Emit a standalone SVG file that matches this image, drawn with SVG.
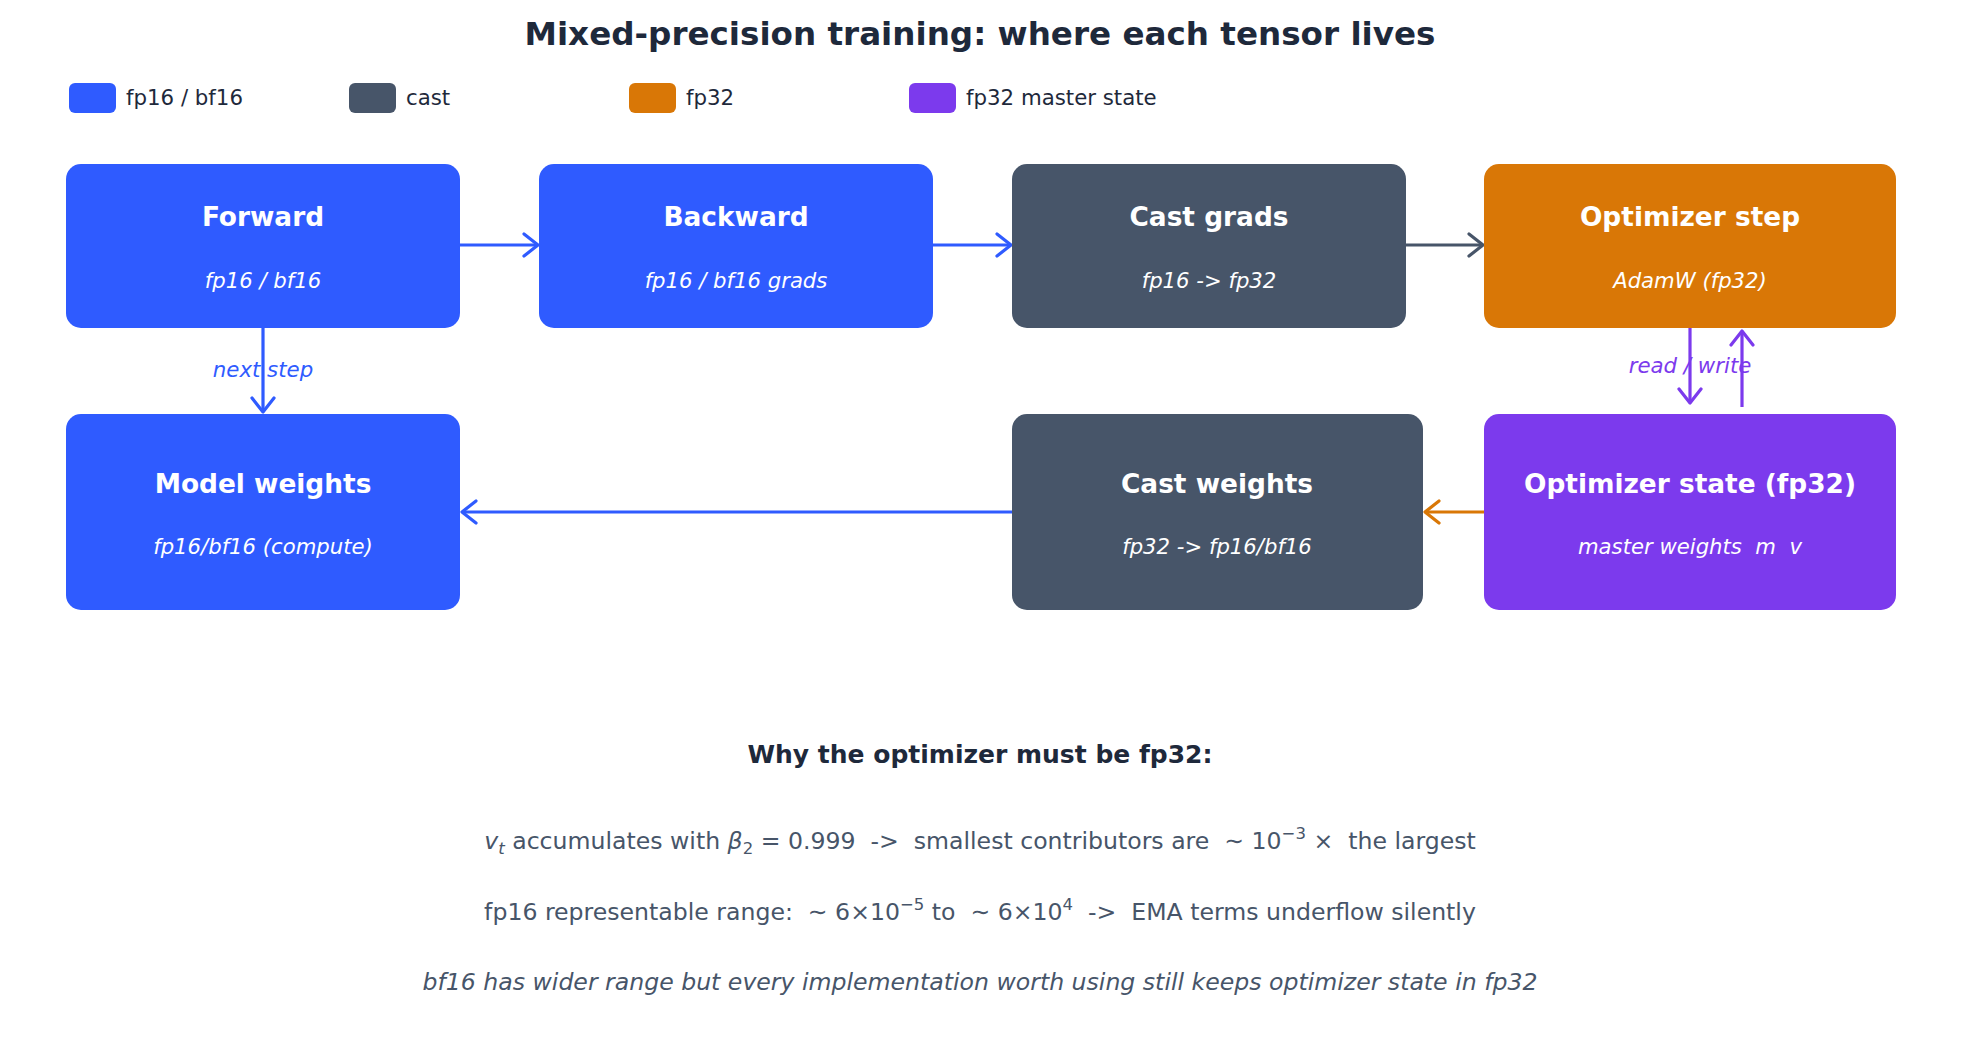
<svg xmlns="http://www.w3.org/2000/svg" width="1961" height="1063" viewBox="0 0 1961 1063">
<style>
text{font-family:"DejaVu Sans","Liberation Sans",sans-serif}
.title{font-size:32.6px;font-weight:bold;fill:#1e293b}
.leg{font-size:21.3px;fill:#1e293b}
.nt{font-size:26.4px;font-weight:bold;fill:#fff}
.ns{font-size:21.2px;font-style:italic;fill:#fff}
.lbl{font-size:21.3px;font-style:italic}
.hdr{font-size:25px;font-weight:bold;fill:#1e293b}
.note{font-size:23.6px;fill:#475569}
.blue{fill:#2f5bff}.gray{fill:#475569}.orange{fill:#d97706}.purple{fill:#7c3aed}
.c{stroke-width:3.2;fill:none}
</style>
<defs>
<marker id="ab" markerUnits="userSpaceOnUse" markerWidth="30" markerHeight="30" refX="17" refY="13" orient="auto"><path d="M3,2 L17,13 L3,24" fill="none" stroke="#2f5bff" stroke-width="3.2" stroke-linecap="round" stroke-linejoin="round"/></marker>
<marker id="ag" markerUnits="userSpaceOnUse" markerWidth="30" markerHeight="30" refX="17" refY="13" orient="auto"><path d="M3,2 L17,13 L3,24" fill="none" stroke="#475569" stroke-width="3.2" stroke-linecap="round" stroke-linejoin="round"/></marker>
<marker id="ao" markerUnits="userSpaceOnUse" markerWidth="30" markerHeight="30" refX="17" refY="13" orient="auto"><path d="M3,2 L17,13 L3,24" fill="none" stroke="#d97706" stroke-width="3.2" stroke-linecap="round" stroke-linejoin="round"/></marker>
<marker id="ap" markerUnits="userSpaceOnUse" markerWidth="30" markerHeight="30" refX="17" refY="13" orient="auto"><path d="M3,2 L17,13 L3,24" fill="none" stroke="#7c3aed" stroke-width="3.2" stroke-linecap="round" stroke-linejoin="round"/></marker>
</defs>
<rect width="1961" height="1063" fill="#fff"/>
<text class="title" x="980" y="45" text-anchor="middle">Mixed-precision training: where each tensor lives</text>
<g id="legend">
<rect class="blue" x="69" y="83" width="47" height="30" rx="6"/><text class="leg" x="126" y="105">fp16 / bf16</text>
<rect class="gray" x="349" y="83" width="47" height="30" rx="6"/><text class="leg" x="406" y="105">cast</text>
<rect class="orange" x="629" y="83" width="47" height="30" rx="6"/><text class="leg" x="686" y="105">fp32</text>
<rect class="purple" x="909" y="83" width="47" height="30" rx="6"/><text class="leg" x="966" y="105">fp32 master state</text>
</g>
<g id="connectors">
<line class="c" x1="460" y1="245" x2="538" y2="245" stroke="#2f5bff" marker-end="url(#ab)"/>
<line class="c" x1="933" y1="245" x2="1011" y2="245" stroke="#2f5bff" marker-end="url(#ab)"/>
<line class="c" x1="1406" y1="245" x2="1483" y2="245" stroke="#475569" marker-end="url(#ag)"/>
<line class="c" x1="263" y1="328" x2="263" y2="412" stroke="#2f5bff" marker-end="url(#ab)"/>
<text class="lbl blue" x="263" y="377" text-anchor="middle">next step</text>
<line class="c" x1="1690" y1="328" x2="1690" y2="403" stroke="#7c3aed" marker-end="url(#ap)"/>
<line class="c" x1="1742" y1="407" x2="1742" y2="331" stroke="#7c3aed" marker-end="url(#ap)"/>
<text class="lbl purple" x="1690" y="373" text-anchor="middle">read / write</text>
<line class="c" x1="1484" y1="512" x2="1425" y2="512" stroke="#d97706" marker-end="url(#ao)"/>
<line class="c" x1="1012" y1="512" x2="462" y2="512" stroke="#2f5bff" marker-end="url(#ab)"/>
</g>
<g id="forward"><rect class="blue" x="66" y="164" width="394" height="164" rx="15"/><text class="nt" x="263" y="226" text-anchor="middle">Forward</text><text class="ns" x="263" y="288" text-anchor="middle">fp16 / bf16</text></g>
<g id="backward"><rect class="blue" x="539" y="164" width="394" height="164" rx="15"/><text class="nt" x="736" y="226" text-anchor="middle">Backward</text><text class="ns" x="736" y="288" text-anchor="middle">fp16 / bf16 grads</text></g>
<g id="cast-grads"><rect class="gray" x="1012" y="164" width="394" height="164" rx="15"/><text class="nt" x="1209" y="226" text-anchor="middle">Cast grads</text><text class="ns" x="1209" y="288" text-anchor="middle">fp16 -&gt; fp32</text></g>
<g id="optimizer-step"><rect class="orange" x="1484" y="164" width="412" height="164" rx="15"/><text class="nt" x="1690" y="226" text-anchor="middle">Optimizer step</text><text class="ns" x="1690" y="288" text-anchor="middle">AdamW (fp32)</text></g>
<g id="model-weights"><rect class="blue" x="66" y="414" width="394" height="196" rx="15"/><text class="nt" x="263" y="493" text-anchor="middle">Model weights</text><text class="ns" x="263" y="554" text-anchor="middle">fp16/bf16 (compute)</text></g>
<g id="cast-weights"><rect class="gray" x="1012" y="414" width="411" height="196" rx="15"/><text class="nt" x="1217" y="493" text-anchor="middle">Cast weights</text><text class="ns" x="1217" y="554" text-anchor="middle">fp32 -&gt; fp16/bf16</text></g>
<g id="optimizer-state"><rect class="purple" x="1484" y="414" width="412" height="196" rx="15"/><text class="nt" x="1690" y="493" text-anchor="middle">Optimizer state (fp32)</text><text class="ns" x="1690" y="554" text-anchor="middle" xml:space="preserve">master weights  m  v</text></g>
<g id="notes">
<text class="hdr" x="980" y="763" text-anchor="middle">Why the optimizer must be fp32:</text>
<text class="note" x="980" y="849" text-anchor="middle" xml:space="preserve"><tspan font-style="italic">v</tspan><tspan font-style="italic" font-size="16.5" dy="5">t</tspan><tspan dy="-5"> accumulates with </tspan><tspan font-style="italic">β</tspan><tspan font-size="16.5" dy="5">2</tspan><tspan dy="-5"> = 0.999  -&gt;  smallest contributors are  ∼ 10</tspan><tspan font-size="16.5" dy="-10">−3</tspan><tspan dy="10"> ×  the largest</tspan></text>
<text class="note" x="980" y="920" text-anchor="middle" xml:space="preserve">fp16 representable range:  ∼ 6×10<tspan font-size="16.5" dy="-10">−5</tspan><tspan dy="10"> to  ∼ 6×10</tspan><tspan font-size="16.5" dy="-10">4</tspan><tspan dy="10">  -&gt;  EMA terms underflow silently</tspan></text>
<text class="note" x="980" y="990" text-anchor="middle" font-style="italic">bf16 has wider range but every implementation worth using still keeps optimizer state in fp32</text>
</g>
</svg>
